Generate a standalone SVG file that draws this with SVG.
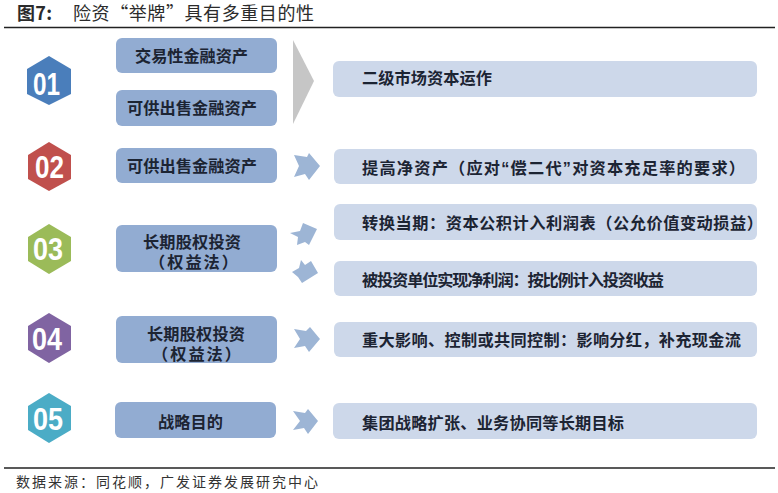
<svg xmlns="http://www.w3.org/2000/svg" width="778" height="493" viewBox="0 0 778 493">
<style>
text{font-family:"Liberation Sans","Noto Sans CJK SC",sans-serif}
.l{fill:#92acd2}
.r{fill:#cdd8ea}
.a{fill:#9db5d5}
.t{font-size:16.2px;font-weight:700;fill:#1c2433}
.s{font-size:16.2px;font-weight:700;fill:#1c2433}
.n{font-size:31px;font-weight:700;fill:#fff}
.h{font-family:"Noto Sans CJK SC",sans-serif;font-size:18px;fill:#2b2b2b}
</style>
<rect width="778" height="493" fill="#fff"/>
<g id="title"><text x="17" y="20" class="h" style="font-weight:700" textLength="35">图7:</text><text x="73" y="20" class="h" textLength="241">险资“举牌”具有多重目的性</text><path d="M4 27.5H775" stroke="#222" stroke-width="1.3"/></g>
<g id="connectors">
<path d="M293 40L314 81L293 124Z" fill="#c6c6c6"/>
<path class="a" d="M294 155L307 157L309 153L320 166L309 180L305 174L294 177L299 166Z"/>
<path class="a" d="M290 233L300 231L303 223L317 229L309 245L305 242L297 245L298 237Z"/>
<path class="a" d="M292 272L299 268L301 260L305 265L311 261L318 273L302 283L298 277Z"/>
<path class="a" d="M294 329L306 331L310 327L320 339L309 352L305 346L294 348L300 339Z"/>
<path class="a" d="M293 411L305 413L308 409L318 421L308 434L304 428L293 430L300 421Z"/>
</g>
<g id="n01"><path fill="#4a7ebb" d="M49 56L71 69V94L49 105L27 94V69Z"/><text x="33" y="95" class="n" textLength="27" lengthAdjust="spacingAndGlyphs">01</text>
<rect class="l" x="116" y="38" width="161" height="35" rx="6"/><text x="135" y="62" class="t" textLength="113">交易性金融资产</text>
<rect class="l" x="116" y="90" width="161" height="36" rx="6"/><text x="127" y="114" class="t" textLength="130">可供出售金融资产</text>
<rect class="r" x="333" y="61" width="424" height="36" rx="6"/><text x="362" y="84" class="s" textLength="130">二级市场资本运作</text></g>
<g id="n02"><path fill="#c0504d" d="M49 142L71 155V179L49 191L28 179V155Z"/><text x="35" y="178" class="n" textLength="29" lengthAdjust="spacingAndGlyphs">02</text>
<rect class="l" x="116" y="148" width="161" height="35" rx="6"/><text x="127" y="172" class="t" textLength="130">可供出售金融资产</text>
<rect class="r" x="334" y="149" width="423" height="35" rx="6"/><text x="362" y="174" class="s" textLength="383">提高净资产（应对“偿二代”对资本充足率的要求）</text></g>
<g id="n03"><path fill="#9bbb59" d="M49 224L71 237V261L49 274L28 261V237Z"/><text x="33" y="260" class="n" textLength="30" lengthAdjust="spacingAndGlyphs">03</text>
<rect class="l" x="116" y="225" width="161" height="47" rx="6"/><text x="143" y="248" class="t" textLength="98">长期股权投资</text><text x="149" y="268" class="t" textLength="89">（权益法）</text>
<rect class="r" x="334" y="204" width="423" height="36" rx="6"/><text x="362" y="229" class="s" textLength="401">转换当期：资本公积计入利润表（公允价值变动损益）</text>
<rect class="r" x="334" y="261" width="423" height="35" rx="6"/><text x="362" y="286" class="s" textLength="302">被投资单位实现净利润：按比例计入投资收益</text></g>
<g id="n04"><path fill="#8064a2" d="M49 313L71 326V350L49 363L28 350V326Z"/><text x="32" y="350" class="n" textLength="30" lengthAdjust="spacingAndGlyphs">04</text>
<rect class="l" x="116" y="316" width="161" height="47" rx="6"/><text x="147" y="340" class="t" textLength="98">长期股权投资</text><text x="152" y="360" class="t" textLength="89">（权益法）</text>
<rect class="r" x="334" y="322" width="423" height="35" rx="6"/><text x="362" y="346" class="s" textLength="379">重大影响、控制或共同控制：影响分红，补充现金流</text></g>
<g id="n05"><path fill="#4bacc6" d="M49 393L71 406V430L49 443L28 430V406Z"/><text x="33" y="430" class="n" textLength="30" lengthAdjust="spacingAndGlyphs">05</text>
<rect class="l" x="115" y="402" width="161" height="36" rx="6"/><text x="158" y="428" class="t" textLength="65">战略目的</text>
<rect class="r" x="333" y="403" width="424" height="36" rx="6"/><text x="362" y="429" class="s" textLength="262">集团战略扩张、业务协同等长期目标</text></g>
<g id="footer"><path d="M4 468H775" stroke="#222" stroke-width="1.3"/><text x="16" y="487" style="font-family:'Noto Sans CJK SC',sans-serif;font-size:14px;fill:#333" textLength="302">数据来源：同花顺，广发证券发展研究中心</text></g>
</svg>
